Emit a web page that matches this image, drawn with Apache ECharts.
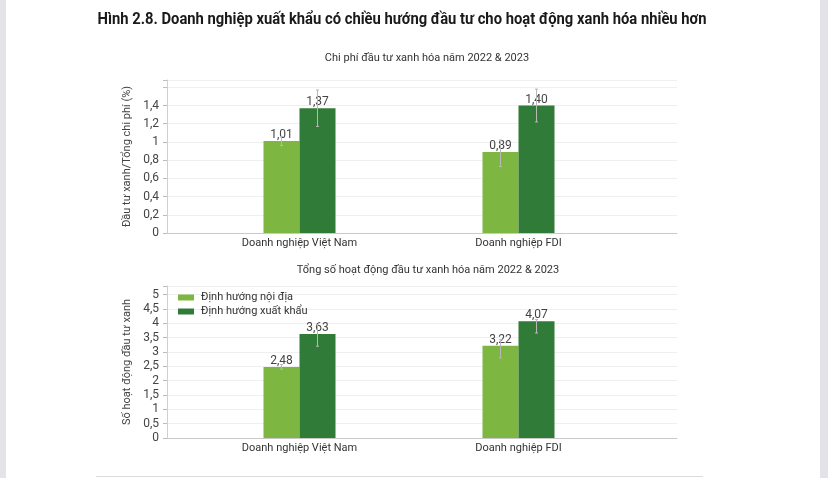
<!DOCTYPE html>
<html>
<head>
<meta charset="utf-8">
<script src="https://cdn.jsdelivr.net/npm/echarts@6/dist/echarts.min.js"></script>
<style>html,body{margin:0;padding:0;background:#fff;}#c{width:828px;height:478px;}</style>
</head>
<body>
<div id="c"></div>
<script>
const categories = ['Doanh nghiệp Việt Nam', 'Doanh nghiệp FDI'];
const seriesNames = ['Định hướng nội địa', 'Định hướng xuất khẩu'];
const mainTitle = 'Hình 2.8. Doanh nghiệp xuất khẩu có chiều hướng đầu tư cho hoạt động xanh hóa nhiều hơn';
const topTitle = 'Chi phí đầu tư xanh hóa năm 2022 & 2023';
const bottomTitle = 'Tổng số hoạt động đầu tư xanh hóa năm 2022 & 2023';
const topAxisName = 'Đầu tư xanh/Tổng chi phí (%)';
const bottomAxisName = 'Số hoạt động đầu tư xanh';

const costDomestic = [1.01, 0.89];
const costExport = [1.37, 1.40];
const costDomesticErr = [[0.96, 1.06], [0.73, 1.02]];
const costExportErr = [[1.17, 1.57], [1.22, 1.58]];

const actDomestic = [2.48, 3.22];
const actExport = [3.63, 4.07];
const actDomesticErr = [[2.40, 2.56], [2.79, 3.43]];
const actExportErr = [[3.20, 3.95], [3.66, 4.13]];

const FONT = "Roboto, 'Noto Sans', sans-serif";
const FS = 11;
const LIGHT = '#7db641';
const DARK = '#2f7b37';
const BAR_W = 36;

const comma = v => String(Math.round(v * 100) / 100).replace('.', ',');

// horizontal condensing factor for the bold main title (target width ~609px)
const TITLE_FONT = 'bold 17px ' + FONT;
const measureCtx = document.createElement('canvas').getContext('2d');
measureCtx.font = TITLE_FONT;
const titleScale = Math.min(1, 609 / measureCtx.measureText(mainTitle).width);

function errSeries(errs, xi, yi, offset) {
  return {
    type: 'custom', xAxisIndex: xi, yAxisIndex: yi, z: 5, silent: true,
    data: errs.map((e, i) => [i, e[0], e[1]]),
    encode: { x: 0, y: [1, 2] },
    renderItem: function (params, api) {
      const lo = api.coord([api.value(0), api.value(1)]);
      const hi = api.coord([api.value(0), api.value(2)]);
      const x = lo[0] + offset;
      const st = { stroke: '#b8b8b8', lineWidth: 1 };
      return {
        type: 'group',
        children: [
          { type: 'line', shape: { x1: x, y1: lo[1], x2: x, y2: hi[1] }, style: st },
          { type: 'line', shape: { x1: x - 1.5, y1: lo[1], x2: x + 1.5, y2: lo[1] }, style: st },
          { type: 'line', shape: { x1: x - 1.5, y1: hi[1], x2: x + 1.5, y2: hi[1] }, style: st }
        ]
      };
    }
  };
}

function barSeries(name, data, color, xi, yi) {
  return {
    name: name, type: 'bar', xAxisIndex: xi, yAxisIndex: yi,
    data: data, barWidth: BAR_W, barGap: '0%',
    itemStyle: { color: color },
    label: {
      show: true, position: 'top', distance: 0,
      color: '#444', fontFamily: FONT, fontSize: 12,
      formatter: p => p.value.toFixed(2).replace('.', ',')
    }
  };
}

const frameX = (gi) => ({
  type: 'value', gridIndex: gi, min: 0, max: 1,
  axisLine: { show: true, lineStyle: { color: '#c9c9c9' } },
  axisTick: { show: false }, axisLabel: { show: false }, splitLine: { show: false }
});
const catX = (gi) => ({
  type: 'category', gridIndex: gi, data: categories,
  axisLine: { show: false }, axisTick: { show: false },
  axisLabel: { color: '#333', fontFamily: FONT, fontSize: FS, margin: 5 },
  splitLine: { show: false }
});
const frameY = (gi, max, interval, showMax, name) => ({
  type: 'value', gridIndex: gi, min: 0, max: max, interval: interval,
  name: name, nameLocation: 'middle', nameGap: 28,
  nameTextStyle: { color: '#444', fontFamily: FONT, fontSize: FS },
  axisLine: { show: true, lineStyle: { color: '#d0d0d0' } },
  axisTick: { show: true, length: 4, lineStyle: { color: '#bdbdbd' } },
  axisLabel: {
    color: '#444', fontFamily: FONT, fontSize: 12, margin: 8,
    formatter: v => (v > showMax + 1e-9 ? '' : comma(v))
  },
  splitLine: { show: true, lineStyle: { color: '#efefef' } }
});
const hidY = (gi, max) => ({ type: 'value', gridIndex: gi, min: 0, max: max, show: false });

const option = {
  backgroundColor: '#ffffff',
  animation: false,
  graphic: [
    { type: 'rect', shape: { x: 0, y: 0, width: 6, height: 478 }, style: { fill: '#e4e4e8' } },
    { type: 'rect', shape: { x: 820, y: 0, width: 8, height: 478 }, style: { fill: '#e2e2e8' } },
    { type: 'rect', shape: { x: 96, y: 476, width: 607, height: 1 }, style: { fill: '#dcdcdc' } },
    { type: 'text', x: 402, y: 20, scaleX: titleScale, style: { text: mainTitle, fill: '#1a1a1a', font: TITLE_FONT, textAlign: 'center', textVerticalAlign: 'middle' } },
    { type: 'text', x: 427, y: 58, style: { text: topTitle, fill: '#333', font: FS + 'px ' + FONT, textAlign: 'center', textVerticalAlign: 'middle' } },
    { type: 'text', x: 428, y: 270, style: { text: bottomTitle, fill: '#333', font: FS + 'px ' + FONT, textAlign: 'center', textVerticalAlign: 'middle' } }
  ],
  legend: {
    data: seriesNames, orient: 'vertical', left: 173, top: 287,
    itemWidth: 16, itemHeight: 6, itemGap: 3, icon: 'rect',
    textStyle: { color: '#333', fontFamily: FONT, fontSize: FS, padding: [0, 0, 0, 2] }
  },
  grid: [
    { left: 167, right: 151, top: 80, bottom: 245 },
    { left: 190, right: 200, top: 80, bottom: 245 },
    { left: 167, right: 151, top: 286, bottom: 40 },
    { left: 190, right: 200, top: 286, bottom: 40 }
  ],
  xAxis: [frameX(0), catX(1), frameX(2), catX(3)],
  yAxis: [
    frameY(0, 1.68, 0.2, 1.4, topAxisName), hidY(1, 1.68),
    frameY(2, 5.3, 0.5, 5, bottomAxisName), hidY(3, 5.3)
  ],
  series: [
    barSeries(seriesNames[0], costDomestic, LIGHT, 1, 1),
    barSeries(seriesNames[1], costExport, DARK, 1, 1),
    errSeries(costDomesticErr, 1, 1, -BAR_W / 2),
    errSeries(costExportErr, 1, 1, BAR_W / 2),
    barSeries(seriesNames[0], actDomestic, LIGHT, 3, 3),
    barSeries(seriesNames[1], actExport, DARK, 3, 3),
    errSeries(actDomesticErr, 3, 3, -BAR_W / 2),
    errSeries(actExportErr, 3, 3, BAR_W / 2)
  ]
};

const chart = echarts.init(document.getElementById('c'), null, { renderer: 'canvas' });
chart.setOption(option);
</script>
</body>
</html>
